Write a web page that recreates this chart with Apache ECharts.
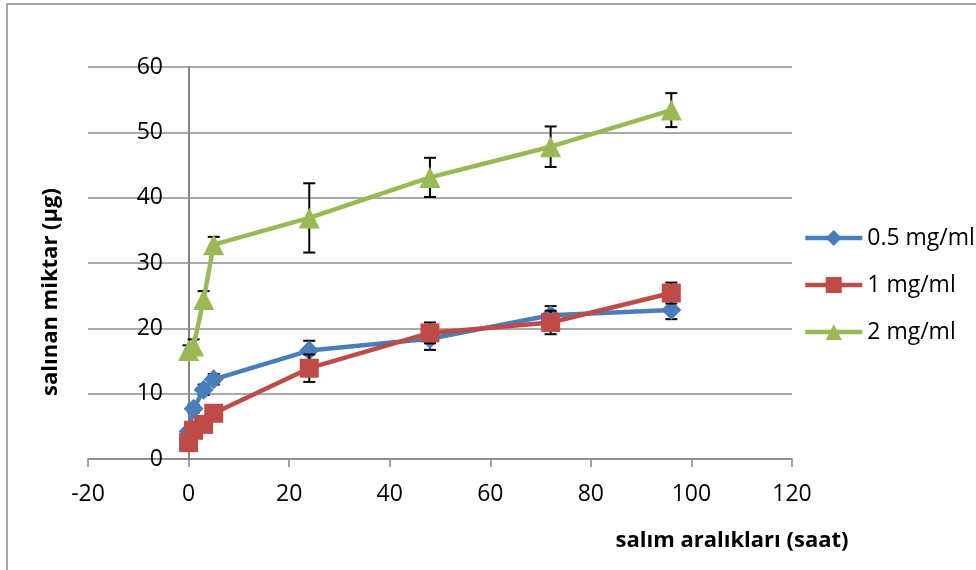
<!DOCTYPE html>
<html>
<head>
<meta charset="utf-8">
<script src="https://cdn.jsdelivr.net/npm/echarts@6/dist/echarts.min.js"></script>
<style>
  html, body { margin: 0; padding: 0; background: #fff; }
  #chart { width: 976px; height: 570px; }
</style>
</head>
<body>
<div id="chart"></div>
<script>
// Sampling times (hours)
const hours = [0, 1, 3, 5, 24, 48, 72, 96];

// Released amount (µg) per concentration, with standard deviations
const names = ['0.5 mg/ml', '1 mg/ml', '2 mg/ml'];
const release05 = [4.2, 7.7, 10.6, 12.2, 16.6, 18.4, 22.0, 22.8];
const sd05      = [0.5, 0.6, 0.8, 0.8, 1.5, 1.7, 1.4, 1.4];
const release1  = [2.5, 4.4, 5.3, 7.0, 13.9, 19.3, 20.9, 25.4];
const sd1       = [0.5, 0.5, 0.6, 0.6, 2.1, 1.6, 1.8, 1.6];
const release2  = [16.6, 17.3, 24.4, 32.8, 36.9, 43.1, 47.8, 53.4];
const sd2       = [0.8, 1.0, 1.3, 1.2, 5.3, 3.0, 3.1, 2.6];

const xTitle = 'salım aralıkları (saat)';
const yTitle = 'salınan miktar (µg)';

const colors = ['#4A7EBB', '#BE4B48', '#98B954'];
const symbols = ['diamond', 'rect', 'triangle'];
const symbolSizes = [20, 19, 21];
const FONT = '"Open Sans", sans-serif';

const seriesValues = [release05, release1, release2];
const seriesSd = [sd05, sd1, sd2];

function pairs(values) {
  return hours.map((h, i) => [h, values[i]]);
}

function errorSeries(values, sds, z) {
  return {
    type: 'custom',
    z: z,
    silent: true,
    data: hours.map((h, i) => [h, values[i] - sds[i], values[i] + sds[i]]),
    renderItem: function (params, api) {
      const lo = api.coord([api.value(0), api.value(1)]);
      const hi = api.coord([api.value(0), api.value(2)]);
      const cap = 6;
      const st = { stroke: '#000', lineWidth: 2 };
      return {
        type: 'group',
        children: [
          { type: 'line', shape: { x1: lo[0], y1: lo[1], x2: hi[0], y2: hi[1] }, style: st },
          { type: 'line', shape: { x1: lo[0] - cap, y1: lo[1], x2: lo[0] + cap, y2: lo[1] }, style: st },
          { type: 'line', shape: { x1: hi[0] - cap, y1: hi[1], x2: hi[0] + cap, y2: hi[1] }, style: st }
        ]
      };
    }
  };
}

const series = [];
names.forEach((name, k) => {
  series.push(errorSeries(seriesValues[k], seriesSd[k], 2 + k * 2));
  series.push({
    name: name,
    type: 'line',
    z: 3 + k * 2,
    data: pairs(seriesValues[k]),
    symbol: symbols[k],
    symbolSize: symbolSizes[k],
    showAllSymbol: true,
    lineStyle: { color: colors[k], width: 4.5 },
    itemStyle: { color: colors[k] },
    emphasis: { disabled: true }
  });
});

const chart = echarts.init(document.getElementById('chart'), null, { renderer: 'canvas' });
chart.setOption({
  animation: false,
  backgroundColor: '#fff',
  grid: { left: 88, right: 184, top: 67, bottom: 111, containLabel: false },
  legend: {
    orient: 'vertical',
    left: 798,
    top: 218,
    itemWidth: 57,
    itemHeight: 20,
    itemGap: 17,
    data: names,
    lineStyle: { width: 4.5 },
    textStyle: { fontFamily: FONT, fontSize: 23, color: '#000', lineHeight: 30 }
  },
  xAxis: {
    type: 'value',
    min: -20,
    max: 120,
    interval: 20,
    axisLine: { onZero: true, lineStyle: { color: '#868686', width: 1.5 } },
    axisTick: { show: true, inside: false, length: 8, lineStyle: { color: '#868686', width: 1.5 } },
    axisLabel: { margin: 24, fontFamily: FONT, fontSize: 23, color: '#000' },
    splitLine: { show: false }
  },
  yAxis: {
    type: 'value',
    min: 0,
    max: 60,
    interval: 10,
    axisLine: { show: true, onZero: true, lineStyle: { color: '#868686', width: 2 } },
    axisTick: { show: false },
    // labels sit just left of the x = 0 crossing, not at the plot edge
    axisLabel: { margin: -75, fontFamily: FONT, fontSize: 23, color: '#000' },
    splitLine: { show: true, lineStyle: { color: '#8c8c8c', width: 1.5 } }
  },
  graphic: [
    {
      type: 'rect',
      shape: { x: 7, y: 4, width: 1000, height: 600 },
      style: { fill: 'none', stroke: '#8a8a8a', lineWidth: 1.5 },
      silent: true
    },
    {
      type: 'text',
      x: 732,
      y: 541,
      style: {
        text: xTitle,
        fontFamily: FONT,
        fontWeight: 'bold',
        fontSize: 22,
        fill: '#000',
        align: 'center',
        verticalAlign: 'middle'
      }
    },
    {
      type: 'text',
      x: 51,
      y: 292,
      rotation: Math.PI / 2,
      style: {
        text: yTitle,
        fontFamily: FONT,
        fontWeight: 'bold',
        fontSize: 22,
        fill: '#000',
        align: 'center',
        verticalAlign: 'middle'
      }
    }
  ],
  series: series
});
</script>
</body>
</html>
